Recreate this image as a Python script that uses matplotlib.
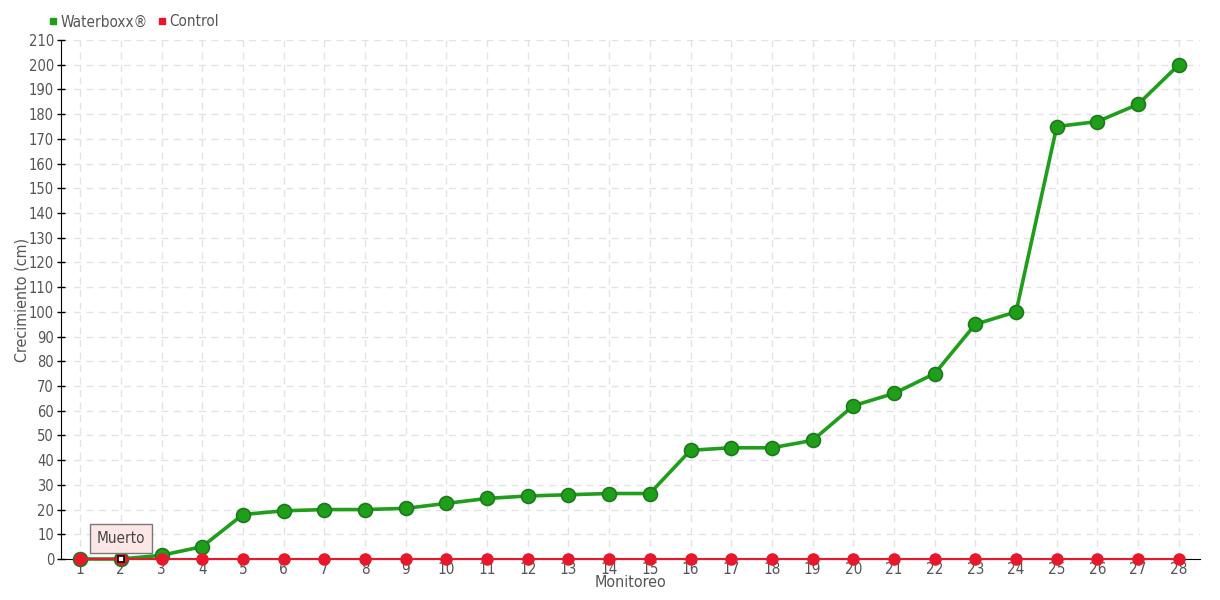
import matplotlib
matplotlib.use("Agg")
import matplotlib.pyplot as plt
from matplotlib.lines import Line2D

plt.rcParams["font.family"] = ["DejaVu Sans"]
plt.rcParams["font.stretch"] = "condensed"

monitoreo = list(range(1, 29))
waterboxx = [0, 0, 1.5, 5, 18, 19.5, 20, 20, 20.5, 22.5, 24.5, 25.5, 26, 26.5, 26.5,
             44, 45, 45, 48, 62, 67, 75, 95, 100, 175, 177, 184, 200]
control = [0] * 28
y_ticks = list(range(0, 211, 10))

GREEN = "#1f9e1a"
GREEN_DARK = "#1b7a1b"
RED = "#e8182c"
TEXT = "#555555"

fig = plt.figure(figsize=(12.2, 6), dpi=100)
ax = fig.add_axes([61 / 1220, 41 / 600, 1139 / 1220, 519 / 600])

ax.grid(True, color="#e3e3e3", linestyle=(0, (5, 4)), linewidth=1)
ax.set_axisbelow(True)

ax.plot(monitoreo, waterboxx, color=GREEN, linewidth=2.6, marker="o",
        markersize=10, markerfacecolor=GREEN, markeredgecolor=GREEN_DARK,
        markeredgewidth=1.2, zorder=3, clip_on=False)
ax.plot(monitoreo, control, color=RED, linewidth=1.5, marker="o",
        markersize=8, markerfacecolor=RED, markeredgecolor=RED, zorder=4,
        clip_on=False)

# hover marker on the second point
ax.plot([monitoreo[1]], [waterboxx[1]], marker="s", markersize=5,
        markerfacecolor="white", markeredgecolor="black", markeredgewidth=1.2,
        zorder=6, clip_on=False)
ax.annotate("Muerto", xy=(monitoreo[1], waterboxx[1]), xytext=(0, 14.5),
            textcoords="offset points", ha="center", va="center",
            fontsize=11, color="#444444", zorder=7,
            bbox=dict(boxstyle="square,pad=0.45", fc="#fde6e6", ec="#777777", lw=1))

ax.set_xlim(0.53, 28.52)
ax.set_ylim(0, 210)
ax.set_xticks(monitoreo)
ax.set_yticks(y_ticks)
ax.tick_params(axis="x", length=0, labelsize=11, labelcolor=TEXT, pad=2)
ax.tick_params(axis="y", direction="inout", length=6, width=1, labelsize=10.5,
               labelcolor=TEXT, pad=2)

for side in ("top", "right"):
    ax.spines[side].set_visible(False)
ax.spines["left"].set_color("black")
ax.spines["bottom"].set_color("black")

ax.set_xlabel("Monitoreo", fontsize=11.5, color=TEXT, labelpad=-1)
ax.set_ylabel("Crecimiento (cm)", fontsize=11.5, color=TEXT, labelpad=-0.5)

handles = [
    Line2D([], [], linestyle="none", marker="s", markersize=5, color=GREEN),
    Line2D([], [], linestyle="none", marker="s", markersize=5, color=RED),
]
fig.legend(handles, ["Waterboxx®", "Control"], loc="center left",
           bbox_to_anchor=(32 / 1220, 1 - 22 / 600), ncol=2, frameon=False,
           fontsize=11, labelcolor=TEXT, handletextpad=0.0, columnspacing=0.4,
           handlelength=1)

fig.savefig("out.png", dpi=100)
plt.close(fig)
